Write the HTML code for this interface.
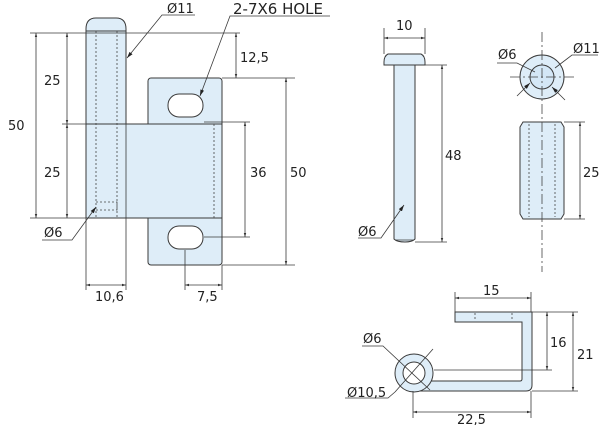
<!DOCTYPE html>
<html><head><meta charset="utf-8"><style>
html,body{margin:0;padding:0;background:#fff;width:600px;height:425px;overflow:hidden}
text{font-family:"DejaVu Sans","Liberation Sans",sans-serif;font-size:13px;fill:#222}
</style></head><body>
<svg width="600" height="425" viewBox="0 0 600 425" xmlns="http://www.w3.org/2000/svg">
<defs>
<marker id="a" viewBox="0 0 10 10" refX="10" refY="5" markerWidth="5" markerHeight="5" orient="auto-start-reverse"><path d="M0,2 L10,5 L0,8z" fill="#333"/></marker>
<marker id="b" viewBox="0 0 10 10" refX="10" refY="5" markerWidth="8" markerHeight="8" orient="auto"><path d="M0,2 L10,5 L0,8z" fill="#222"/></marker>
</defs>
<g stroke="#3a3a3a" stroke-width="1" fill="#deedf8">
<rect x="148" y="78" width="74" height="187" rx="3"/>
<path d="M86,29 Q86,18 96,18 L116,18 Q126,18 126,29 L126,124 L86,124 Z"/>
<rect x="86" y="124" width="136" height="94"/>
<rect x="168" y="94" width="35" height="23" rx="11" fill="#fff"/>
<rect x="168" y="226" width="35" height="23" rx="11" fill="#fff"/>
<path d="M388,54 L421,54 Q425,56 425,62 L425,65 L384,65 L384,62 Q384,56 388,54Z"/>
<path d="M394,65 L415,65 L415,239 Q412,242 405,242 Q397,242 394,239Z"/>
<circle cx="542" cy="77" r="22"/>
<circle cx="542" cy="77" r="12" fill="#d4e7f6"/>
<path d="M523,122 L561,122 L564,127 L564,214 L561,219 L523,219 L520,214 L520,127Z"/>
<path d="M455,312 L532,312 L532,385 Q532,391 526,391 L414,391 L414,381 L520,381 Q522,381 522,379 L522,322 L455,322 Z"/>
<circle cx="414" cy="373" r="19"/>
<circle cx="414" cy="373" r="11" fill="#fff"/>
</g>
<g stroke="#444" stroke-width="0.8" stroke-dasharray="2,2" fill="none">
<line x1="96" y1="31" x2="96" y2="218"/>
<line x1="117" y1="31" x2="117" y2="218"/>
<path d="M96,210 L117,210 L117,202 L96,202"/>
<line x1="214" y1="124" x2="214" y2="218"/>
<line x1="529" y1="124" x2="529" y2="217"/>
<line x1="555" y1="124" x2="555" y2="217"/>
<line x1="475" y1="313" x2="475" y2="321"/>
<line x1="512" y1="313" x2="512" y2="321"/>
</g>
<g stroke="#444" stroke-width="0.8" stroke-dasharray="10,3,2,3" fill="none">
<line x1="542" y1="32" x2="542" y2="272"/>
<line x1="510" y1="77" x2="575" y2="77"/>
</g>
<g stroke="#3a3a3a" stroke-width="0.8" fill="none">
<line x1="86" y1="31" x2="126" y2="31" stroke-width="1"/>
<line x1="396" y1="240" x2="413" y2="240"/>
<line x1="30" y1="33" x2="240" y2="33"/>
<line x1="62" y1="124" x2="86" y2="124"/>
<line x1="30" y1="218" x2="86" y2="218"/>
<line x1="222" y1="78" x2="295" y2="78"/>
<line x1="222" y1="265" x2="295" y2="265"/>
<line x1="204" y1="122" x2="250" y2="122"/>
<line x1="204" y1="237" x2="250" y2="237"/>
<line x1="86" y1="218" x2="86" y2="290"/>
<line x1="126" y1="124" x2="126" y2="290"/>
<line x1="185" y1="250" x2="185" y2="290"/>
<line x1="222" y1="265" x2="222" y2="290"/>
<line x1="36" y1="33" x2="36" y2="218" marker-start="url(#a)" marker-end="url(#a)"/>
<line x1="67" y1="33" x2="67" y2="124" marker-start="url(#a)" marker-end="url(#a)"/>
<line x1="67" y1="124" x2="67" y2="218" marker-start="url(#a)" marker-end="url(#a)"/>
<line x1="236" y1="33" x2="236" y2="78" marker-start="url(#a)" marker-end="url(#a)"/>
<line x1="245" y1="122" x2="245" y2="237" marker-start="url(#a)" marker-end="url(#a)"/>
<line x1="286" y1="78" x2="286" y2="265" marker-start="url(#a)" marker-end="url(#a)"/>
<line x1="86" y1="285" x2="126" y2="285" marker-start="url(#a)" marker-end="url(#a)"/>
<line x1="185" y1="285" x2="222" y2="285" marker-start="url(#a)" marker-end="url(#a)"/>
<polyline points="195,15 162,15 127,58" marker-end="url(#b)"/>
<polyline points="330,16 230,16 200,96" marker-end="url(#b)"/>
<polyline points="42,240 72,240 96,207" marker-end="url(#b)"/>
<line x1="384" y1="28" x2="384" y2="54"/>
<line x1="425" y1="28" x2="425" y2="54"/>
<line x1="384" y1="38" x2="425" y2="38" marker-start="url(#a)" marker-end="url(#a)"/>
<line x1="415" y1="65" x2="447" y2="65"/>
<line x1="415" y1="242" x2="447" y2="242"/>
<line x1="442" y1="65" x2="442" y2="242" marker-start="url(#a)" marker-end="url(#a)"/>
<polyline points="358,238 381,238 404,205" marker-end="url(#b)"/>
<polyline points="497,63 517,63 535,72"/>
<line x1="517" y1="96" x2="530" y2="83" marker-end="url(#b)"/>
<polyline points="598,55 572,55 555,68"/>
<line x1="565" y1="100" x2="552" y2="87" marker-end="url(#b)"/>
<line x1="564" y1="122" x2="585" y2="122"/>
<line x1="564" y1="219" x2="585" y2="219"/>
<line x1="580" y1="122" x2="580" y2="219" marker-start="url(#a)" marker-end="url(#a)"/>
<line x1="455" y1="292" x2="455" y2="312"/>
<line x1="531" y1="292" x2="531" y2="312"/>
<line x1="455" y1="298" x2="531" y2="298" marker-start="url(#a)" marker-end="url(#a)"/>
<line x1="532" y1="312" x2="578" y2="312"/>
<line x1="434" y1="370" x2="552" y2="370"/>
<line x1="532" y1="391" x2="578" y2="391"/>
<line x1="547" y1="312" x2="547" y2="370" marker-start="url(#a)" marker-end="url(#a)"/>
<line x1="573" y1="312" x2="573" y2="391" marker-start="url(#a)" marker-end="url(#a)"/>
<line x1="413" y1="391" x2="413" y2="418"/>
<line x1="531" y1="391" x2="531" y2="418"/>
<line x1="413" y1="412" x2="531" y2="412" marker-start="url(#a)" marker-end="url(#a)"/>
<polyline points="362,346 383,346 430,390"/>
<line x1="433" y1="349" x2="395" y2="392"/>
<polyline points="345,398 388,398 395,392"/>
</g>
<text x="167" y="13">Ø11</text>
<text x="233" y="14" style="font-size:15px;fill:#222">2-7X6 HOLE</text>
<text x="240" y="62">12,5</text>
<text x="8" y="130">50</text>
<text x="44" y="85">25</text>
<text x="44" y="177">25</text>
<text x="250" y="177">36</text>
<text x="290" y="177">50</text>
<text x="44" y="237">Ø6</text>
<text x="95" y="301">10,6</text>
<text x="197" y="301">7,5</text>
<text x="396" y="30">10</text>
<text x="445" y="160">48</text>
<text x="358" y="236">Ø6</text>
<text x="498" y="59">Ø6</text>
<text x="573" y="53">Ø11</text>
<text x="583" y="177">25</text>
<text x="483" y="295">15</text>
<text x="550" y="347">16</text>
<text x="577" y="359">21</text>
<text x="363" y="343">Ø6</text>
<text x="347" y="397">Ø10,5</text>
<text x="457" y="424">22,5</text>
</svg>
</body></html>
